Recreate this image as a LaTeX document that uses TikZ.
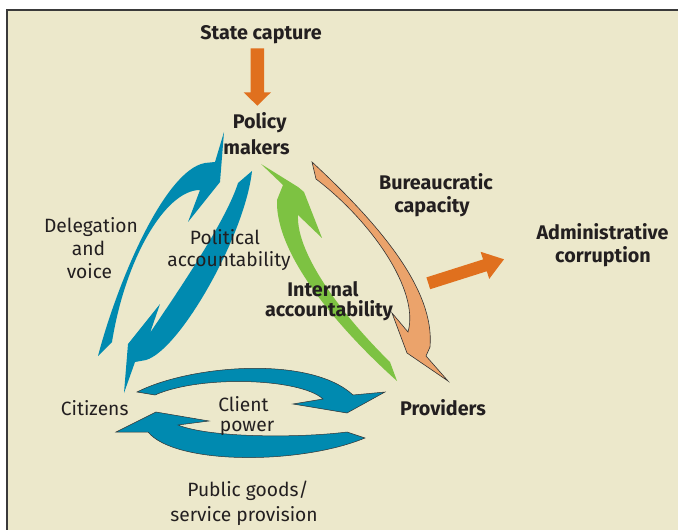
\documentclass[tikz,border=0pt]{standalone}
\usepackage{fontspec}
\setmainfont{Fira Sans}
\definecolor{bg}{HTML}{ECE8CB}
\definecolor{frm}{HTML}{3A3A3A}
\definecolor{txt}{HTML}{231F20}
\definecolor{blu}{HTML}{008AB0}
\definecolor{grn}{HTML}{7DC242}
\definecolor{sal}{HTML}{EBA36B}
\definecolor{org}{HTML}{E0701E}
\tikzset{
  lbl/.style={font=\fontsize{19.3}{23}\selectfont, text=txt, inner sep=0pt, anchor=base},
  blbl/.style={lbl, font=\fontsize{19.8}{23}\selectfont\bfseries},
  bluearrow/.style={fill=blu, draw=none},
  bluearrowo/.style={fill=blu, draw=black!80, line width=0.5bp},
  greenarrow/.style={fill=grn, draw=none},
  salarrow/.style={fill=sal, draw=black!80, line width=0.6bp, line join=miter},
  orgarrow/.style={fill=org, draw=none}
}
\begin{document}
\begin{tikzpicture}[x=1bp,y=-1bp]
\useasboundingbox (0,0) rectangle (678,530);
\fill[white] (0,0) rectangle (678,530);
\fill[bg] (7,10) rectangle (678,530);
\draw[frm, line width=1.2bp] (7,530) -- (7,10) -- (678,10);

% orange state capture arrow
\fill[orgarrow] (250.6,48.3) -- (264,48.3) -- (264,92.3) -- (271,92.3) -- (257.3,105.7) -- (243.6,92.3) -- (250.6,92.3) -- cycle;

% orange administrative corruption arrow
\begin{scope}[shift={(428.3,283.3)}, rotate=17.6]
\fill[orgarrow] (0,-6.2) -- (59.4,-6.2) -- (59.4,-14.2) -- (79.4,0) -- (59.4,14.2) -- (59.4,6.2) -- (0,6.2) -- cycle;
\end{scope}

% blue: delegation and voice
\fill[bluearrow] (98,356) .. controls (118,280) and (165,170) .. (205,163) -- (215,162) -- (224,132) -- (220,182) -- (188,222) -- (200,190) .. controls (165,190) and (125,260) .. (112,342) -- cycle;

% blue: political accountability
\fill[bluearrow] (252,171) .. controls (245,235) and (180,350) .. (146,360) -- (135,362) -- (124,393) -- (128,344) -- (160,304) -- (150,333) .. controls (165,310) and (225,225) .. (238,183) -- cycle;

% green: internal accountability
\fill[greenarrow] (298,215) .. controls (296,255) and (345,318) .. (390,362) -- (397,381) .. controls (340,330) and (275,255) .. (277,200) -- (283,185) -- (261,164) -- (298,187) -- (304,192) -- (322,238) -- cycle;

% salmon: bureaucratic capacity
\filldraw[salarrow] (312,162) .. controls (380,225) and (435,290) .. (430,347) -- (426,356) -- (448,381) -- (407,353) -- (392,313) -- (408,332) .. controls (420,290) and (370,220) .. (316,179) -- cycle;

% blue: client power (upper, to providers)
\filldraw[bluearrowo] (137,392) .. controls (190,365) and (310,355) .. (353,395) -- (385,392) -- (347,413) -- (293,404) -- (323,399) .. controls (300,378) and (200,375) .. (155,395) -- cycle;

% blue: service provision (lower, to citizens)
\filldraw[bluearrowo] (365,438) .. controls (300,465) and (175,465) .. (148,432) -- (116,432) -- (156,412) -- (209,421) -- (178,425) .. controls (210,438) and (300,438) .. (347,432) -- cycle;

% labels
\node[blbl] (sc) at (261,40) {State capture};
\node[blbl] (pm1) at (259.7,128.3) {Policy};
\node[blbl] (pm2) at (256.5,154.3) {makers};
\node[lbl] (dv1) at (91,233) {Delegation};
\node[lbl] (dv2) at (88.5,256) {and};
\node[lbl] (dv3) at (89.5,278) {voice};
\node[lbl] (pa1) at (225,245) {Political};
\node[lbl] (pa2) at (229,266.7) {accountability};
\node[blbl] (bc1) at (436,190) {Bureaucratic};
\node[blbl] (bc2) at (432,212.7) {capacity};
\node[blbl] (ac1) at (602.5,240) {Administrative};
\node[blbl] (ac2) at (603,263) {corruption};
\node[blbl] (ia1) at (323,296) {Internal};
\node[blbl] (ia2) at (329,316.7) {accountability};
\node[lbl] (cit) at (94.7,415) {Citizens};
\node[lbl] (cp1) at (243.5,411) {Client};
\node[lbl] (cp2) at (247,431.7) {power};
\node[blbl] (prv) at (443,415) {Providers};
\node[lbl] (pg1) at (248,496.7) {Public goods/};
\node[lbl] (pg2) at (244,521.7) {service provision};
\end{tikzpicture}
\end{document}
